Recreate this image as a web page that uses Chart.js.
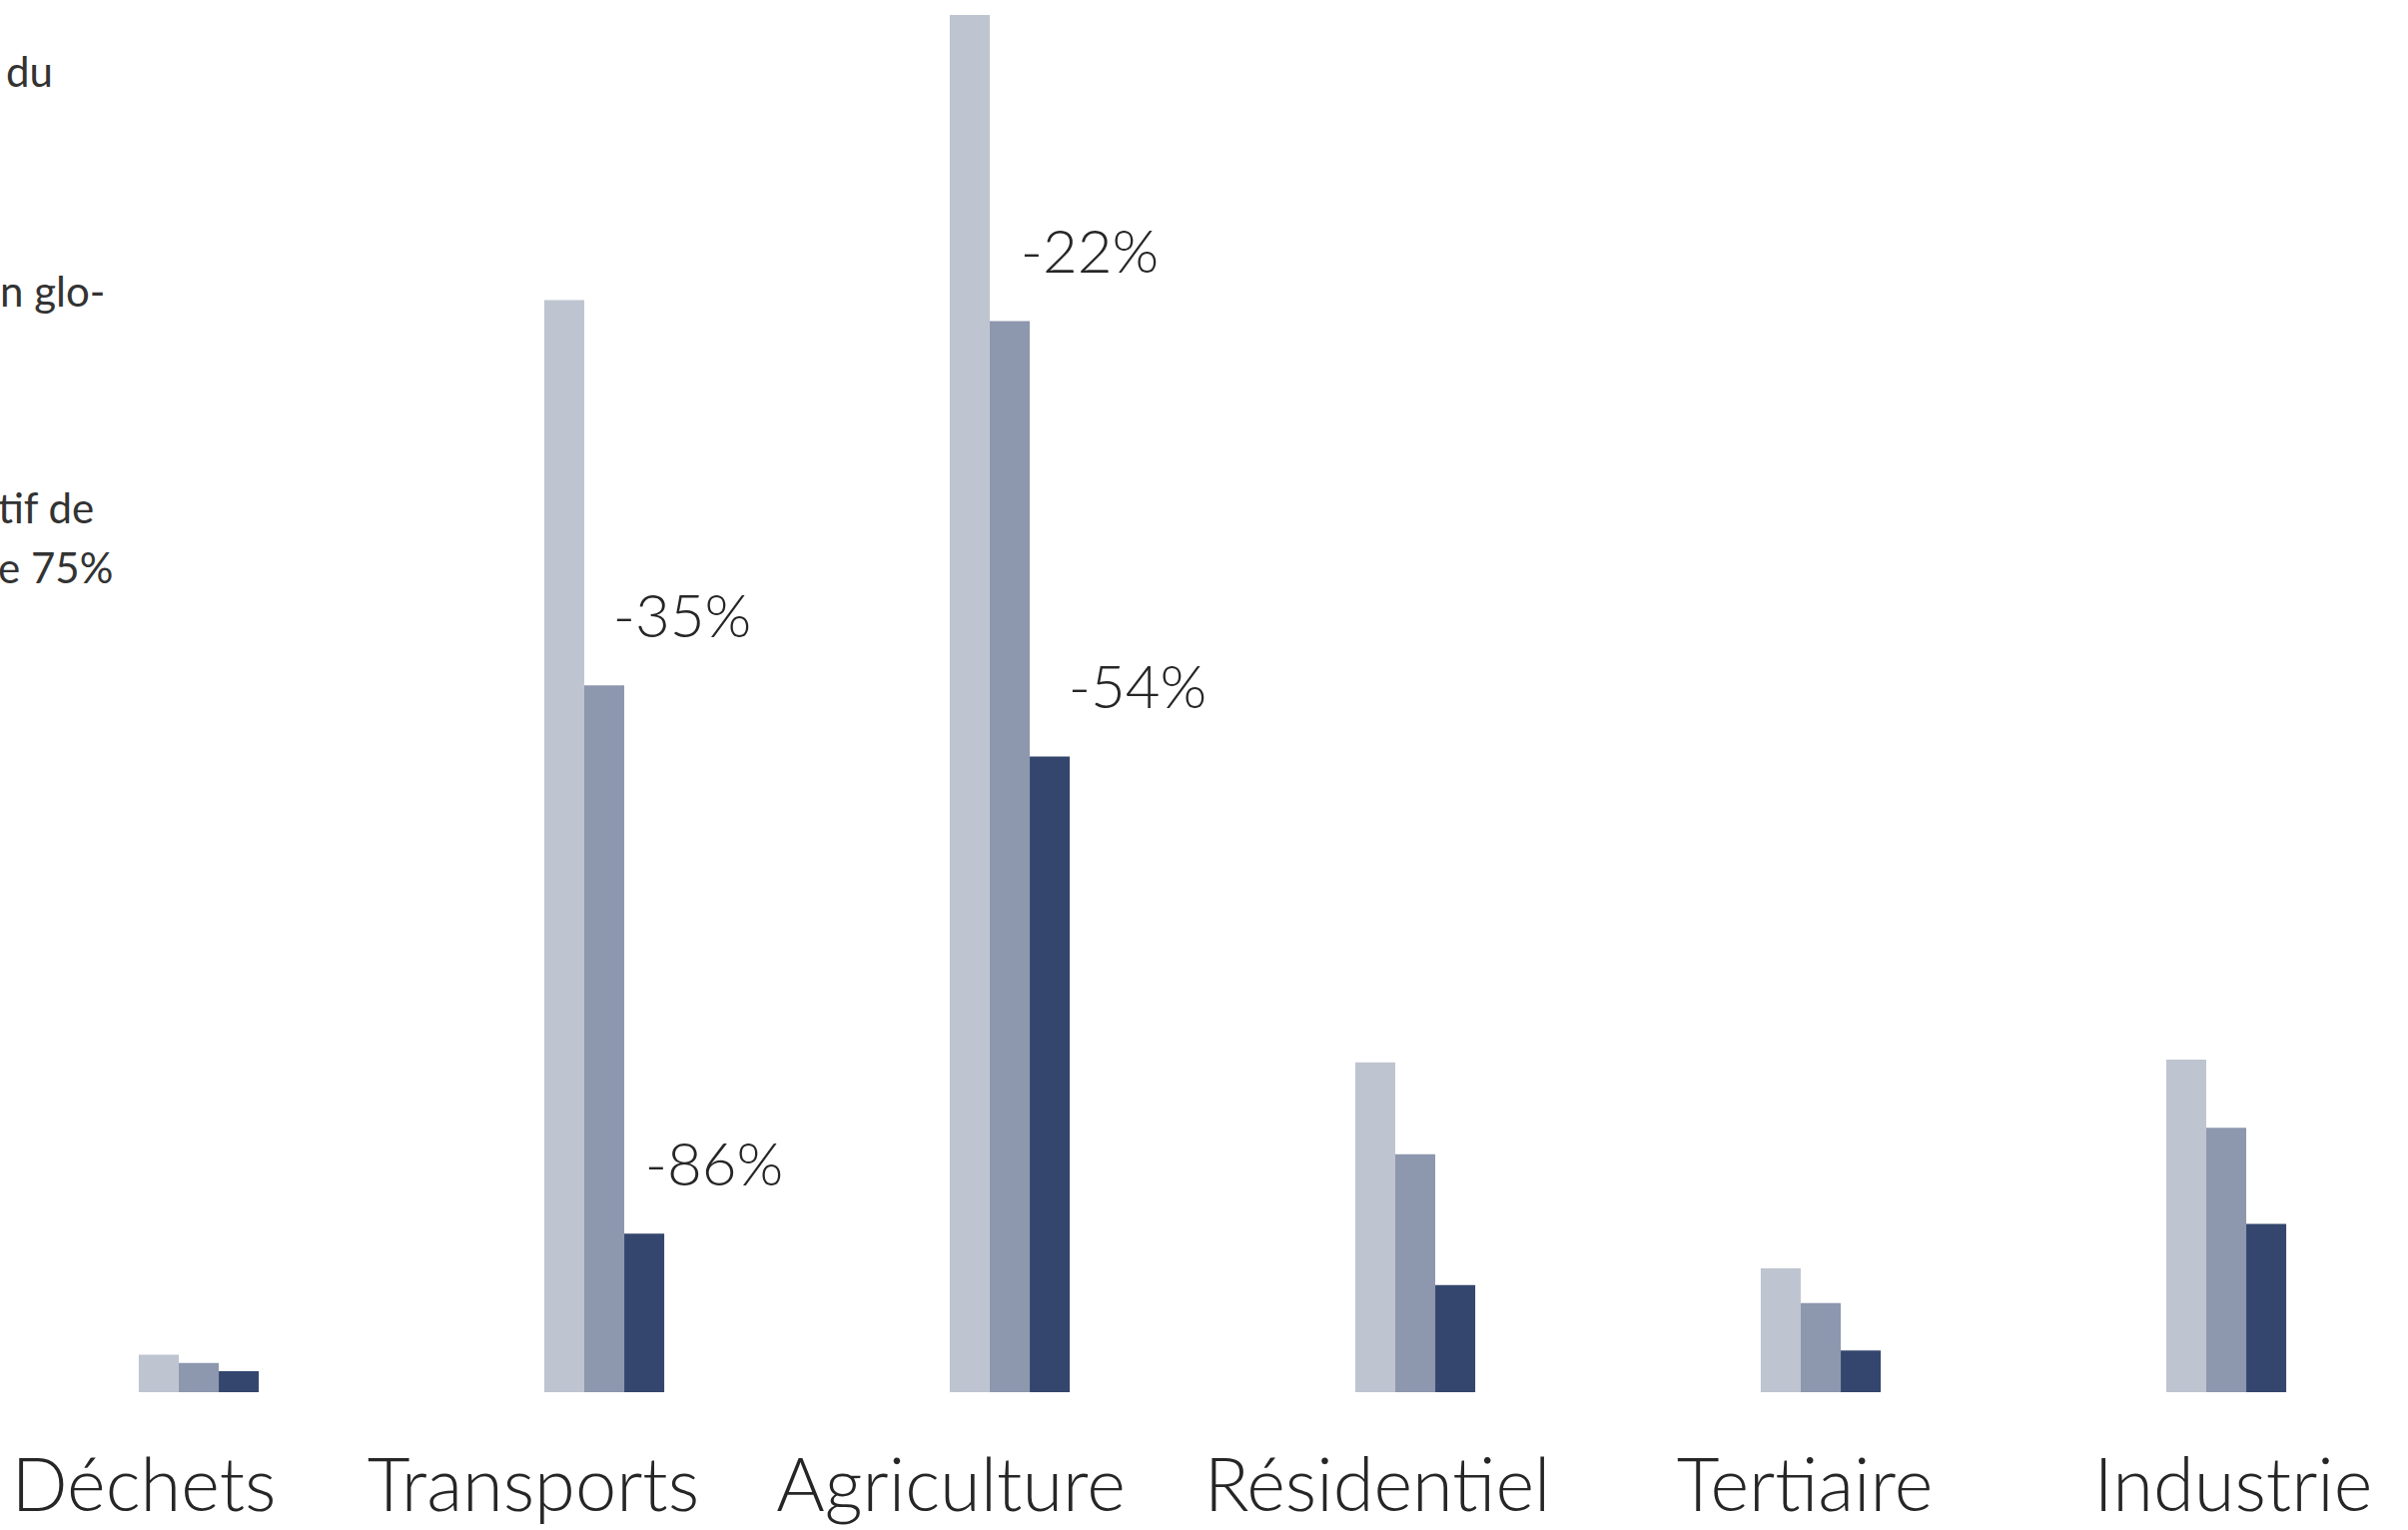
<!DOCTYPE html>
<html>
<head>
<meta charset="utf-8">
<script src="https://cdn.jsdelivr.net/npm/chart.js@4/dist/chart.umd.min.js"></script>
<style>
  html, body { margin: 0; padding: 0; background: #fff; overflow: hidden; }
  #wrap { position: relative; width: 2411px; height: 1532px; overflow: hidden; }
  #box { position: absolute; left: -4px; top: 0; width: 2436px; height: 1532px; }
  .side { position: absolute; left: 0; font-family: Lato, sans-serif; font-size: 42px; color: #333; white-space: nowrap; line-height: 60px; }
</style>
</head>
<body>
<div id="wrap">
  <div class="side" style="top:41px;left:6px">du</div>
  <div class="side" style="top:261px;left:0">n glo-</div>
  <div class="side" style="top:478px;left:-2px">tif de<br>e 75%</div>
  <div id="box"><canvas id="myChart"></canvas></div>
</div>
<script>
const ctx = document.getElementById('myChart');

let sectors = ['Déchets', 'Transports', 'Agriculture', 'Résidentiel', 'Tertiaire', 'Industrie'];

let serieA = [2.7, 78.5, 99.0, 23.7, 8.9, 23.9];
let serieB = [2.1, 50.8, 77.0, 17.1, 6.4, 19.0];
let serieC = [1.5, 11.4, 45.7, 7.7, 3.0, 12.1];

// reductions shown above some bars: [dataset, category, text]
let reductions = [
  [1, 1, '-35%'],
  [2, 1, '-86%'],
  [1, 2, '-22%'],
  [2, 2, '-54%']
];

// the sector names are not centred under their bars in the original
const nameShift = [-55, -71, -59, -38, -16, 7];
const pctShift = [78, 70, 80, 88];

const textLayer = {
  id: 'textLayer',
  afterDatasetsDraw(chart) {
    const c = chart.ctx;
    const x = chart.scales.x;
    c.save();
    c.fillStyle = '#262626';
    c.textAlign = 'center';
    c.textBaseline = 'middle';
    c.font = '300 60px Lato, sans-serif';
    reductions.forEach(function (r, k) {
      const bar = chart.getDatasetMeta(r[0]).data[r[1]];
      c.fillText(r[2], bar.x + pctShift[k], bar.y - 68);
    });
    c.font = '300 74px Lato, sans-serif';
    sectors.forEach(function (name, i) {
      c.fillText(name, x.getPixelForValue(i) + nameShift[i], chart.chartArea.bottom + 95);
    });
    c.restore();
  }
};

new Chart(ctx, {
  type: 'bar',
  data: {
    labels: sectors,
    datasets: [
      { data: serieA, backgroundColor: '#bec4d0' },
      { data: serieB, backgroundColor: '#8d97ae' },
      { data: serieC, backgroundColor: '#34466d' }
    ]
  },
  options: {
    responsive: true,
    maintainAspectRatio: false,
    animation: false,
    layout: { padding: { top: 1, bottom: 138, left: 0, right: 0 } },
    plugins: { legend: { display: false }, tooltip: { enabled: false } },
    datasets: { bar: { categoryPercentage: 0.296, barPercentage: 1 } },
    scales: {
      x: { display: false },
      y: { display: false, min: 0, max: 100 }
    }
  },
  plugins: [textLayer]
});
</script>
</body>
</html>
